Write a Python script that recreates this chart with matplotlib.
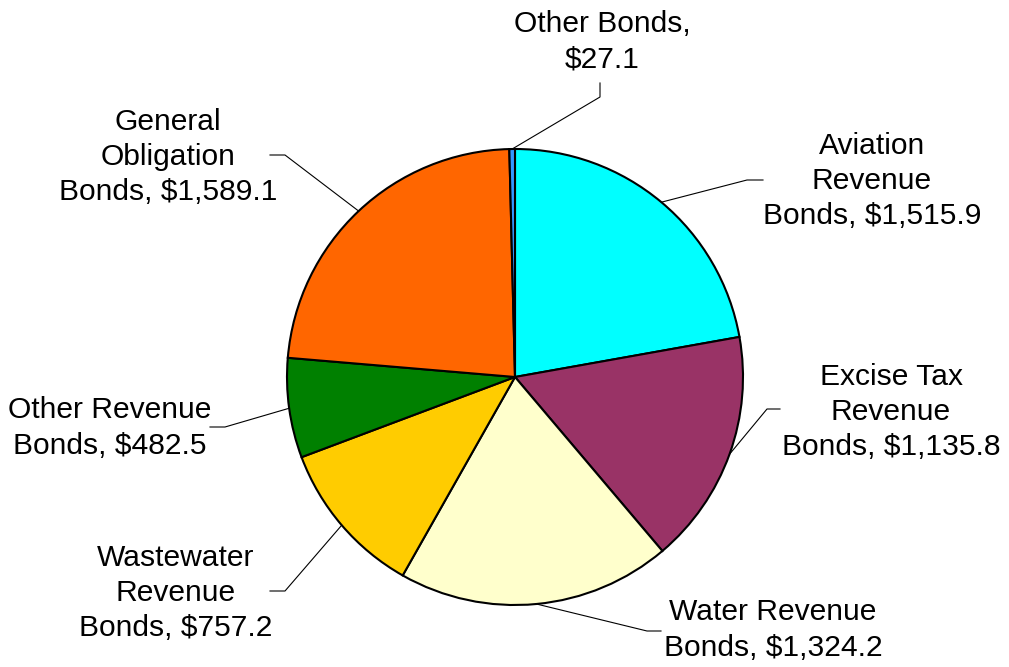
import numpy as np
import matplotlib
matplotlib.use("Agg")
import matplotlib.pyplot as plt

# ==========================================
# DATA (clockwise from 12 o'clock)
# ==========================================

names = [
    "Aviation\nRevenue\nBonds",
    "Excise Tax\nRevenue\nBonds",
    "Water Revenue\nBonds",
    "Wastewater\nRevenue\nBonds",
    "Other Revenue\nBonds",
    "General\nObligation\nBonds",
    "Other Bonds",
]
values = [1515.9, 1135.8, 1324.2, 757.2, 482.5, 1589.1, 27.1]
separators = [", $", ", $", ", $", ", $", ", $", ", $", ",\n$"]
colors = ["#00FFFF", "#993366", "#FFFFCC", "#FFCC00", "#008000", "#FF6600", "#3399FF"]

# ==========================================
# LAYOUT (pixel positions, y from top)
# ==========================================

W, H = 1009, 667
center_px = (515, 377)
radius_px = 228

# elbow of leader line, end of short segment, label centre
elbows = [(747, 180), (767, 409), (647, 631), (285, 591), (225, 427), (285, 155), (600, 97)]
ends = [(763, 180), (780, 409), (661, 631), (270, 591), (210, 427), (270, 155), (600, 83)]
label_pos = [(872, 181), (891, 412), (773, 630), (176, 593), (110, 428), (168, 157), (602, 42)]

plt.rcParams["font.family"] = ["Liberation Sans", "DejaVu Sans"]

fig = plt.figure(figsize=(W / 100, H / 100), dpi=100)
ax = fig.add_axes([0, 0, 1, 1])

cx, cy = center_px[0], H - center_px[1]

wedges, _ = ax.pie(
    values,
    colors=colors,
    startangle=90,
    counterclock=False,
    radius=radius_px,
    center=(cx, cy),
    wedgeprops=dict(edgecolor="black", linewidth=1.5),
)

ax.set_xlim(0, W)
ax.set_ylim(0, H)
ax.set_aspect("equal")
ax.axis("off")

# ==========================================
# LABELS WITH LEADER LINES
# ==========================================

for w, name, val, sep, el, en, lp in zip(wedges, names, values, separators, elbows, ends, label_pos):
    mid = np.deg2rad((w.theta1 + w.theta2) / 2)
    sx = cx + radius_px * np.cos(mid)
    sy = cy + radius_px * np.sin(mid)
    ax.plot(
        [sx, el[0], en[0]],
        [sy, H - el[1], H - en[1]],
        color="black",
        linewidth=0.8,
    )
    ax.text(
        lp[0], H - lp[1],
        name + sep + f"{val:,.1f}",
        ha="center", va="center",
        fontsize=21.6, linespacing=1.34,
    )

plt.savefig("out.png", dpi=100)
